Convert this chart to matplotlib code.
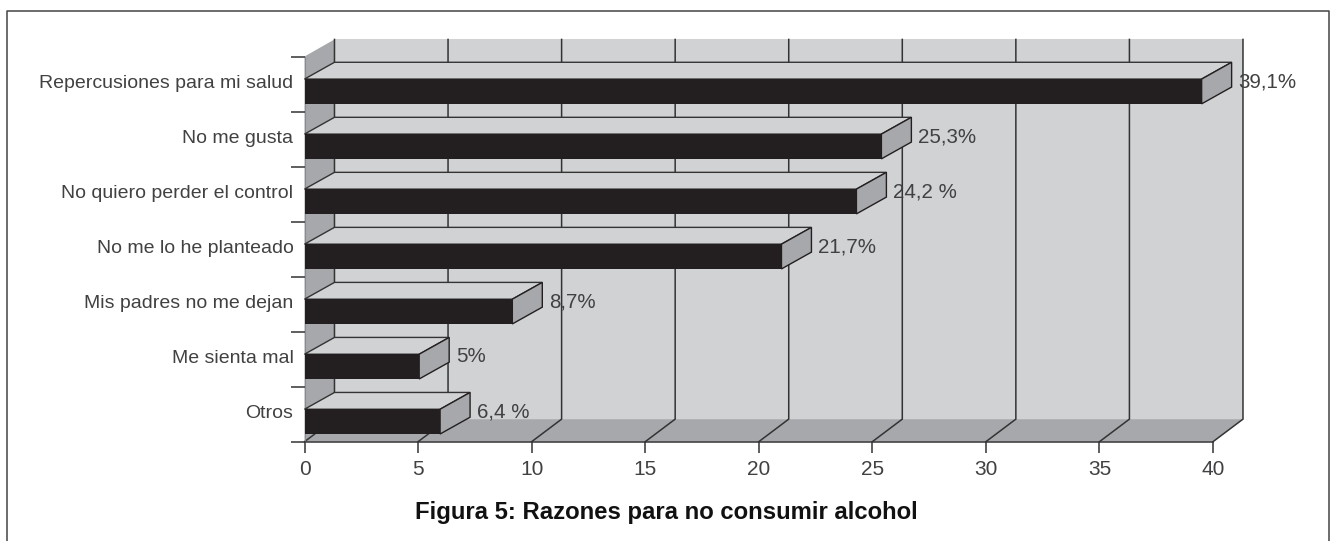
import matplotlib
matplotlib.use("Agg")
import matplotlib.pyplot as plt
from matplotlib.lines import Line2D
from matplotlib.patches import Polygon

# data
categorias = ["Repercusiones para mi salud", "No me gusta", "No quiero perder el control",
              "No me lo he planteado", "Mis padres no me dejan", "Me sienta mal", "Otros"]
valores = [39.5, 25.4, 24.3, 21.0, 9.15, 5.05, 5.97]  # drawn bar lengths
etiquetas = ["39,1%", "25,3%", "24,2 %", "21,7%", "8,7%", "5%", "6,4 %"]
xticks = [0, 5, 10, 15, 20, 25, 30, 35, 40]
titulo = "Figura 5: Razones para no consumir alcohol"

# colours
NEGRO = "#231f20"
CLARO = "#d1d2d4"
MEDIO = "#a7a8ab"
TEXTO = "#414042"
LINEA = "#333333"

W, H = 1330, 541
plt.rcParams['font.family'] = ['Liberation Sans', 'DejaVu Sans']

fig = plt.figure(figsize=(W / 100, H / 100), dpi=100)
ax = fig.add_axes([304.5 / W, 1 - 441.7 / H, (1213 - 304.5) / W, (441.7 - 56.5) / H])
ax.set_xlim(0, 40)
ax.set_ylim(7, 0)
ax.patch.set_visible(False)

# depth of the fake 3d, in data units
dx = 1.32
dy_techo = 0.31
dy_suelo = 0.41
dy_barra = 0.305

# walls and floor
ax.add_patch(Polygon([(dx, -dy_techo), (40 + dx, -dy_techo), (40 + dx, 7 - dy_suelo), (dx, 7 - dy_suelo)],
                     fc=CLARO, ec="none", zorder=1, clip_on=False))
ax.add_patch(Polygon([(0, 0), (dx, -dy_techo), (dx, 7 - dy_suelo), (0, 7)],
                     fc=MEDIO, ec="none", zorder=1, clip_on=False))
ax.add_patch(Polygon([(0, 7), (dx, 7 - dy_suelo), (40 + dx, 7 - dy_suelo), (40, 7)],
                     fc=MEDIO, ec="none", zorder=1, clip_on=False))

# grid lines run across the floor and up the back wall
for x in xticks:
    ax.plot([x, x + dx, x + dx], [7, 7 - dy_suelo, -dy_techo], color=LINEA, lw=1.1,
            zorder=2, clip_on=False, solid_joinstyle="miter")

# bars
alto = 0.45
for i, v in enumerate(valores):
    y0 = i + 0.41
    y1 = y0 + alto
    ax.add_patch(Polygon([(0, y0), (dx, y0 - dy_barra), (v + dx, y0 - dy_barra), (v, y0)],
                         fc=CLARO, ec=LINEA, lw=1.0, zorder=3, clip_on=False))
    ax.add_patch(Polygon([(v, y0), (v + dx, y0 - dy_barra), (v + dx, y1 - dy_barra), (v, y1)],
                         fc=MEDIO, ec=NEGRO, lw=1.0, zorder=3, clip_on=False))
    ax.add_patch(Polygon([(0, y0), (v, y0), (v, y1), (0, y1)],
                         fc=NEGRO, ec="none", zorder=4, clip_on=False))
    ax.text(v + dx + 0.31, i + 0.46, etiquetas[i], fontsize=14.8, color=TEXTO,
            ha="left", va="center", zorder=5)

# axes
for lado in ["top", "right"]:
    ax.spines[lado].set_visible(False)
ax.spines["bottom"].set_color(LINEA)
ax.spines["bottom"].set_linewidth(1.1)
ax.spines["bottom"].set_zorder(5)
ax.spines["left"].set_color("#8a8b8e")
ax.spines["left"].set_linewidth(0.8)

ax.set_xticks(xticks)
ax.set_xticklabels([str(x) for x in xticks], fontsize=15, color=TEXTO)
ax.tick_params(axis="x", length=8, width=1.1, color=LINEA, pad=5.5)
ax.set_yticks(range(8))
ax.set_yticklabels([])
ax.tick_params(axis="y", which="major", length=10, width=1.1, color=LINEA)
ax.set_yticks([i + 0.45 for i in range(len(categorias))], minor=True)
ax.set_yticklabels(categorias, minor=True, fontsize=14, color=TEXTO)
ax.tick_params(axis="y", which="minor", length=0, pad=8)

fig.text(666 / W, 1 - 512 / H, titulo, fontsize=17.2, fontweight="bold", color="#111111",
         ha="center", va="center")

# frame, open at the bottom
marco_x = [7 / W, 7 / W, 1329.3 / W, 1329.3 / W]
marco_y = [0, 1 - 11 / H, 1 - 11 / H, 0]
fig.add_artist(Line2D(marco_x, marco_y, color="#444444", lw=1.1, transform=fig.transFigure))

fig.savefig("out.png", dpi=100)
